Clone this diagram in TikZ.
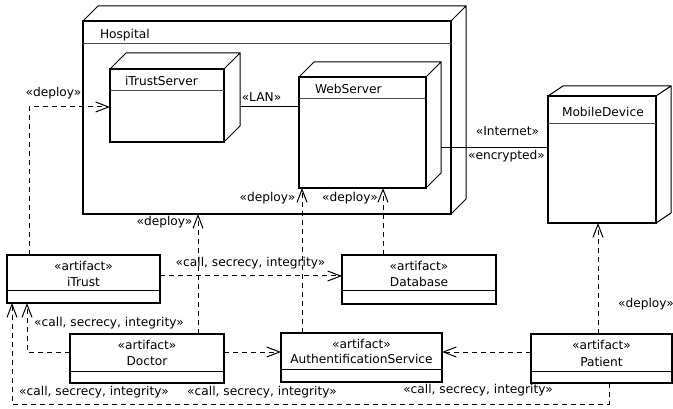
\documentclass[tikz,border=0pt]{standalone}
\usepackage{fontspec}
\setmainfont{DejaVu Sans}
\usetikzlibrary{arrows.meta}
\begin{document}
\begin{tikzpicture}[x=1pt,y=-1pt,
  every node/.style={font=\fontsize{12.2}{15}\selectfont, inner sep=0pt, outer sep=0pt},
  face/.style={draw, rectangle, line width=1.3pt, anchor=north west},
  back/.style={line width=1pt, line join=miter},
  hdr/.style={line width=0.9pt, black!70},
  art/.style={draw, rectangle, line width=1.2pt, anchor=north west},
  divider/.style={line width=1pt},
  link/.style={line width=1pt},
  dep/.style={line width=1pt, dash pattern=on 5pt off 4pt,
              -{Straight Barb[length=13pt,width=10pt]}},
  lbl/.style={anchor=base},
  title/.style={anchor=base west}]
\useasboundingbox (0,0) rectangle (673,409);

% ---- execution environments (3D nodes) ----
\node[face, minimum width=368pt, minimum height=193pt] (hosp) at (83,21) {};
\draw[back] (hosp.north west) -- ++(15,-15) -| ([shift={(15,-15)}]hosp.south east) -- (hosp.south east)
            (hosp.north east) -- ++(15,-15);
\draw[hdr] ([yshift=-22pt]hosp.north west) -- ([yshift=-22pt]hosp.north east);
\node[title] (hospT) at (100,39) {Hospital};

\node[face, fill=white, minimum width=114pt, minimum height=73pt] (its) at (110,69) {};
\draw[back] (its.north west) -- ++(16,-16) -| ([shift={(16,-16)}]its.south east) -- (its.south east)
            (its.north east) -- ++(16,-16);
\draw[hdr] ([yshift=-21pt]its.north west) -- ([yshift=-21pt]its.north east);
\node[title] (itsT) at (125,86) {iTrustServer};

\node[face, fill=white, minimum width=127pt, minimum height=111pt] (ws) at (299,77) {};
\draw[back] (ws.north west) -- ++(15,-15) -| ([shift={(15,-15)}]ws.south east) -- (ws.south east)
            (ws.north east) -- ++(15,-15);
\draw[hdr] ([yshift=-21pt]ws.north west) -- ([yshift=-21pt]ws.north east);
\node[title] (wsT) at (315,94) {WebServer};

\node[face, minimum width=108pt, minimum height=127pt] (md) at (548,96) {};
\draw[back] (md.north west) -- ++(15,-10) -| ([shift={(15,-10)}]md.south east) -- (md.south east)
            (md.north east) -- ++(15,-10);
\draw[hdr] ([yshift=-27pt]md.north west) -- ([yshift=-27pt]md.north east);
\node[title] (mdT) at (562,117) {MobileDevice};

% ---- communication paths ----
\coordinate (lan) at ([yshift=-38pt]its.north east);
\draw[link] (lan) ++(16,0) -- (lan -| ws.west);
\node[lbl] (lanL) at (261.5,102) {«LAN»};

\coordinate (inet) at ([yshift=-71pt]ws.north east);
\draw[link] (inet) ++(15,0) -- (inet -| md.west);
\node[lbl] (inetL) at (507.5,136) {«Internet»};
\node[lbl] (encL) at (506.5,160) {«encrypted»};

% ---- artifacts ----
\node[art, minimum width=153pt, minimum height=48pt] (itrust) at (7,255) {};
\draw[divider] ([yshift=-36pt]itrust.north west) -- ([yshift=-36pt]itrust.north east);
\node[lbl] (itrustS) at (83.5,271) {«artifact»};
\node[lbl] (itrustN) at (83.5,286.7) {iTrust};

\node[art, minimum width=154pt, minimum height=49pt] (db) at (342,255) {};
\draw[divider] ([yshift=-36pt]db.north west) -- ([yshift=-36pt]db.north east);
\node[lbl] (dbS) at (419,271) {«artifact»};
\node[lbl] (dbN) at (419,286.7) {Database};

\node[art, minimum width=154pt, minimum height=49pt] (doc) at (70,334) {};
\draw[divider] ([yshift=-37pt]doc.north west) -- ([yshift=-37pt]doc.north east);
\node[lbl] (docS) at (147,349.5) {«artifact»};
\node[lbl] (docN) at (147,365.7) {Doctor};

\node[art, minimum width=161pt, minimum height=49pt] (as) at (281,333) {};
\draw[divider] ([yshift=-36pt]as.north west) -- ([yshift=-36pt]as.north east);
\node[lbl] (asS) at (361.5,348.3) {«artifact»};
\node[lbl] (asN) at (361.5,363) {AuthentificationService};

\node[art, minimum width=141pt, minimum height=49pt] (pat) at (531,334) {};
\draw[divider] ([yshift=-37pt]pat.north west) -- ([yshift=-37pt]pat.north east);
\node[lbl] (patS) at (601.5,349.5) {«artifact»};
\node[lbl] (patN) at (601.5,366.5) {Patient};

% ---- deployments ----
\coordinate (d1s) at ([xshift=22pt]itrust.north west);
\draw[dep] (d1s) |- ([yshift=-38pt]its.north west);
\node[lbl] (d1L) at (53.5,97) {«deploy»};

\coordinate (d2s) at ([xshift=128pt]doc.north west);
\draw[dep] (d2s) -- (d2s |- hosp.south);
\node[lbl] (d2L) at (164.5,226) {«deploy»};

\coordinate (d3s) at ([xshift=21pt]as.north west);
\draw[dep] (d3s) -- (d3s |- ws.south);
\node[lbl] (d3L) at (267.5,201.5) {«deploy»};

\coordinate (d4s) at ([xshift=41pt]db.north west);
\draw[dep] (d4s) -- (d4s |- ws.south);
\node[lbl] (d4L) at (350,201.5) {«deploy»};

\coordinate (d5s) at ([xshift=67pt]pat.north west);
\draw[dep] (d5s) -- (d5s |- md.south);
\node[lbl] (d5L) at (646,308) {«deploy»};

% ---- calls ----
\coordinate (c1s) at ([yshift=-21pt]itrust.north east);
\draw[dep] (c1s) -- (c1s -| db.west);
\node[lbl] (c1L) at (250.5,266) {«call, secrecy, integrity»};

\coordinate (c2s) at ([yshift=-18pt]doc.north west);
\draw[dep] (c2s) -| ([xshift=20pt]itrust.south west);
\node[lbl] (c2L) at (109,326.7) {«call, secrecy, integrity»};

\coordinate (c3s) at ([yshift=-18pt]doc.north east);
\draw[dep] (c3s) -- (c3s -| as.west);
\node[lbl] (c3L) at (262,395) {«call, secrecy, integrity»};

\draw[dep] (c3s -| pat.west) -- (c3s -| as.east);
\node[lbl] (c4L) at (478,393) {«call, secrecy, integrity»};

\draw[dep] ([xshift=78pt]pat.south west) -- ++(0,21) coordinate (c5b) -| ([xshift=5pt]itrust.south west);
\node[lbl] (c5L) at (94,395) {«call, secrecy, integrity»};
\end{tikzpicture}
\end{document}
